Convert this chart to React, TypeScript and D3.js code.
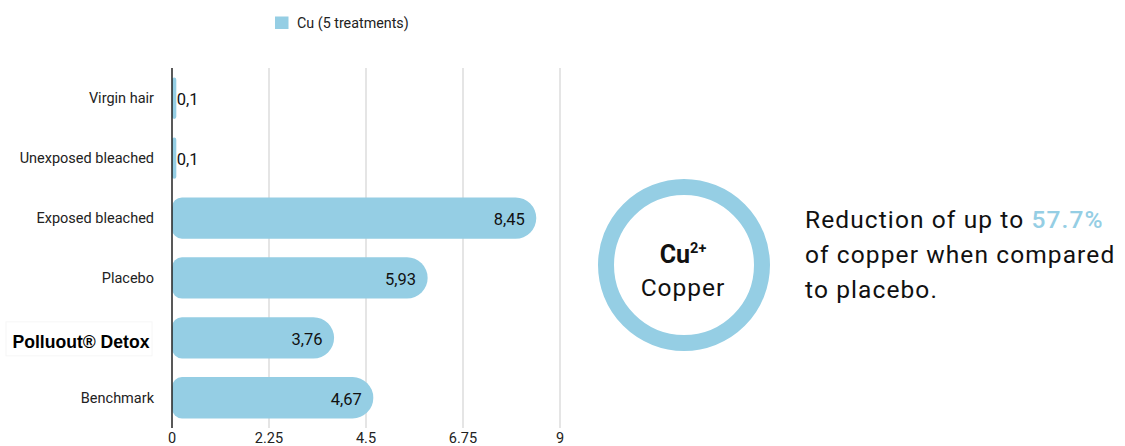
import React from "react";
import * as d3 from "d3";

const categories = ["Virgin hair", "Unexposed bleached", "Exposed bleached", "Placebo", "Polluout® Detox", "Benchmark"];
const values = [0.1, 0.1, 8.45, 5.93, 3.76, 4.67];
const valueLabels = ["0,1", "0,1", "8,45", "5,93", "3,76", "4,67"];
const xTicks = [0, 2.25, 4.5, 6.75, 9];
const xTickLabels = ["0", "2.25", "4.5", "6.75", "9"];
const seriesName = "Cu (5 treatments)";
const highlightCategory = "Polluout® Detox";

const BAR = "#95cee4";
const W = 1125, H = 446;

function barPath(x0: number, y0: number, w: number, h: number, rl: number, rr: number) {
  rl = Math.min(rl, w / 2, h / 2);
  rr = Math.min(rr, w / 2, h / 2);
  const x1 = x0 + w, y1 = y0 + h;
  return `M${x0 + rl},${y0} L${x1 - rr},${y0} A${rr},${rr} 0 0 1 ${x1},${y0 + rr} L${x1},${y1 - rr} A${rr},${rr} 0 0 1 ${x1 - rr},${y1} L${x0 + rl},${y1} A${rl},${rl} 0 0 1 ${x0},${y1 - rl} L${x0},${y0 + rl} A${rl},${rl} 0 0 1 ${x0 + rl},${y0} Z`;
}

export default function App() {
  const x = d3.scaleLinear().domain([0, 9]).range([172, 560]);
  const y = d3.scaleBand().domain(categories).range([68, 428]).paddingInner(0.31).paddingOuter(0.16);
  const font = "Roboto, 'Noto Sans', sans-serif";
  return (
    <svg width={W} height={H} style={{ position: "absolute", left: 0, top: 0, background: "#fff" }}>
      {/* legend */}
      <rect x={275} y={16.5} width={13.5} height={12.5} fill={BAR} />
      <text x={297} y={28} fontFamily={font} fontSize={14.3} fill="#222">{seriesName}</text>
      {/* grid */}
      {xTicks.slice(1).map((t) => (
        <line key={t} x1={x(t)} x2={x(t)} y1={68} y2={428} stroke="#dcdcdc" strokeWidth={1.5} />
      ))}
      {/* bars */}
      {categories.map((c, i) => {
        const y0 = y(c)!;
        const h = y.bandwidth();
        const w = x(values[i]) - x(0);
        return <path key={c} d={barPath(x(0), y0, w, h, 10, h / 2)} fill={BAR} />;
      })}
      {/* value labels */}
      {categories.map((c, i) => {
        const cy = y(c)! + y.bandwidth() / 2;
        const inside = values[i] > 1;
        return (
          <text key={c} x={inside ? x(values[i]) - 11.5 : x(values[i]) + 0.5} y={cy + 7} textAnchor={inside ? "end" : "start"}
            fontFamily={font} fontSize={16.5} fill="#111">{valueLabels[i]}</text>
        );
      })}
      {/* axis line */}
      <line x1={x(0)} x2={x(0)} y1={68} y2={428} stroke="#222" strokeWidth={1.5} />
      {/* category labels */}
      {categories.map((c) => {
        const cy = y(c)! + y.bandwidth() / 2;
        if (c === highlightCategory) {
          return (
            <g key={c}>
              <rect x={6} y={cy - 16} width={146} height={34} fill="#fff" stroke="#f6f6f6" strokeWidth={1} />
              <text x={149.5} y={cy + 10} textAnchor="end" fontFamily="'Liberation Sans', Arial, sans-serif" fontWeight="bold" fontSize={17.6} fill="#000">{c}</text>
            </g>
          );
        }
        return (
          <text key={c} x={154} y={cy + 5} textAnchor="end" fontFamily={font} fontSize={14.5} fill="#222">{c}</text>
        );
      })}
      {/* x tick labels */}
      {xTicks.map((t, i) => (
        <text key={t} x={x(t)} y={443} textAnchor="middle" fontFamily={font} fontSize={14.5} fill="#222">{xTickLabels[i]}</text>
      ))}
      {/* circle badge */}
      <circle cx={684} cy={265} r={78} fill="none" stroke={BAR} strokeWidth={16} />
      <text x={683} y={263} textAnchor="middle" fontFamily={font} fontSize={25} fill="#111">
        <tspan fontWeight="bold">Cu</tspan>
        <tspan fontWeight="bold" fontSize={14.5} dy={-10}>2+</tspan>
      </text>
      <text x={683} y={296} textAnchor="middle" fontFamily={font} fontSize={24.5} letterSpacing={1} fill="#111">Copper</text>
      {/* description */}
      <text x={805} y={228} fontFamily={font} fontSize={24.5} letterSpacing={1.1} fill="#111">
        Reduction of up to <tspan fill={BAR} fontWeight={500}>57.7%</tspan>
      </text>
      <text x={805} y={263} fontFamily={font} fontSize={24.5} letterSpacing={1.1} fill="#111">of copper when compared</text>
      <text x={805} y={298} fontFamily={font} fontSize={24.5} letterSpacing={1.1} fill="#111">to placebo.</text>
    </svg>
  );
}
